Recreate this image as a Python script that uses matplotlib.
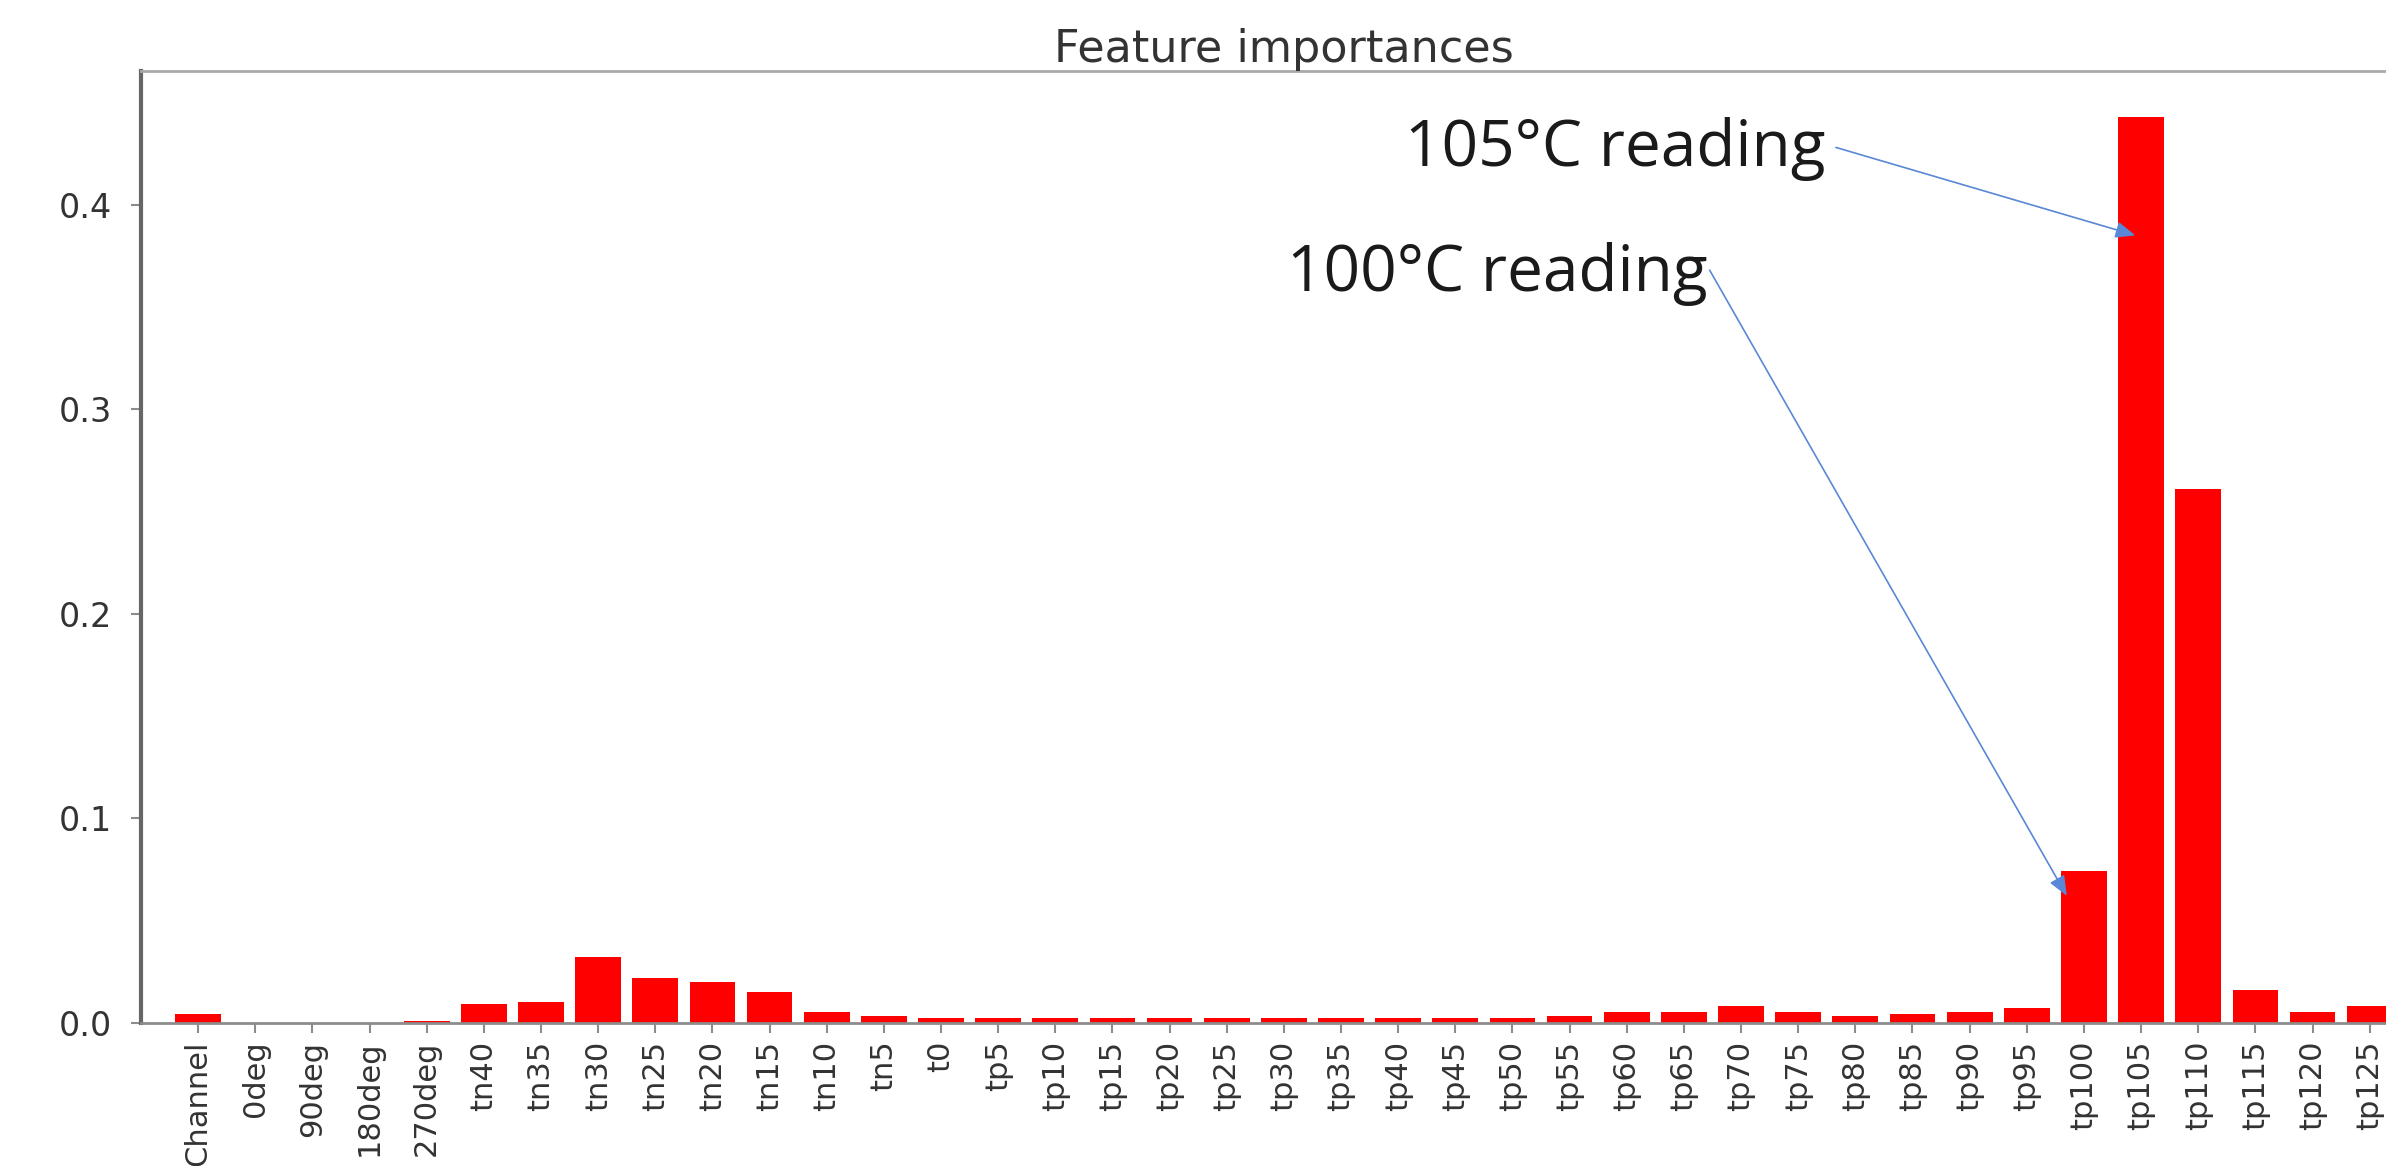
"""Feature importances bar chart with two annotated temperature readings."""

import matplotlib
matplotlib.use("Agg")
import matplotlib.pyplot as plt


features = [
    "Channel", "0deg", "90deg", "180deg", "270deg",
    "tn40", "tn35", "tn30", "tn25", "tn20", "tn15", "tn10", "tn5",
    "t0", "tp5", "tp10", "tp15", "tp20", "tp25", "tp30", "tp35", "tp40",
    "tp45", "tp50", "tp55", "tp60", "tp65", "tp70", "tp75", "tp80", "tp85",
    "tp90", "tp95", "tp100", "tp105", "tp110", "tp115", "tp120", "tp125",
]
importances = [
    0.004, 0.0, 0.0, 0.0, 0.001,
    0.009, 0.010, 0.032, 0.022, 0.020, 0.015, 0.005, 0.003,
    0.002, 0.002, 0.002, 0.002, 0.002, 0.002, 0.002, 0.002, 0.002,
    0.002, 0.002, 0.003, 0.005, 0.005, 0.008, 0.005, 0.003, 0.004,
    0.005, 0.007, 0.074, 0.443, 0.261, 0.016, 0.005, 0.008,
]

# annotations in data coords: text right/baseline, arrow start, arrow tip
annot_labels = ["105°C reading", "100°C reading"]
annot_text_xy = [(28.48, 0.419), (26.42, 0.358)]
annot_start_xy = [(28.66, 0.428), (26.45, 0.368)]
annot_tip_xy = [(33.9, 0.385), (32.7, 0.062)]

TEXT_COLOR = "#333333"
SPINE_COLOR = "#8c8c8c"
ARROW_COLOR = "#5a88d6"


def main():
    fig = plt.figure(figsize=(23.86, 11.66), dpi=100)
    # the original image is cropped on the right, so the axes run past the edge
    ax = fig.add_axes([0.0591, 0.123, 0.958, 0.8157])

    n = len(features)
    ax.bar(range(n), importances, color="r", align="center", width=0.8)
    ax.set_xlim([-1, n])
    ax.set_xticks(range(n))
    ax.set_xticklabels(features, rotation=90, fontsize=22, color=TEXT_COLOR)
    ax.set_yticks([0.0, 0.1, 0.2, 0.3, 0.4])
    ax.set_yticklabels(["0.0", "0.1", "0.2", "0.3", "0.4"], fontsize=24,
                       color=TEXT_COLOR)
    ax.tick_params(axis="both", color=SPINE_COLOR, length=7, width=1.5)
    ax.tick_params(axis="y", pad=14)
    ax.tick_params(axis="x", pad=6)

    for side, spine in ax.spines.items():
        spine.set_color(SPINE_COLOR)
        spine.set_linewidth(2)
    ax.spines["left"].set_color("#666666")
    ax.spines["left"].set_linewidth(3)
    ax.spines["top"].set_color("#aaaaaa")

    ax.set_title("Feature importances", fontsize=32, color=TEXT_COLOR, pad=2)

    for label, txy, start, tip in zip(annot_labels, annot_text_xy,
                                      annot_start_xy, annot_tip_xy):
        ax.text(txy[0], txy[1], label, ha="right", va="baseline",
                fontsize=46, family=["Open Sans", "DejaVu Sans"],
                color="#1a1a1a")
        ax.annotate(
            "",
            xy=tip,
            xytext=start,
            arrowprops=dict(
                arrowstyle="-|>,head_length=0.6,head_width=0.25",
                mutation_scale=20,
                color=ARROW_COLOR,
                lw=1.2,
                shrinkA=0,
                shrinkB=0,
            ),
        )

    fig.savefig("out.png", dpi=100)


if __name__ == "__main__":
    main()
